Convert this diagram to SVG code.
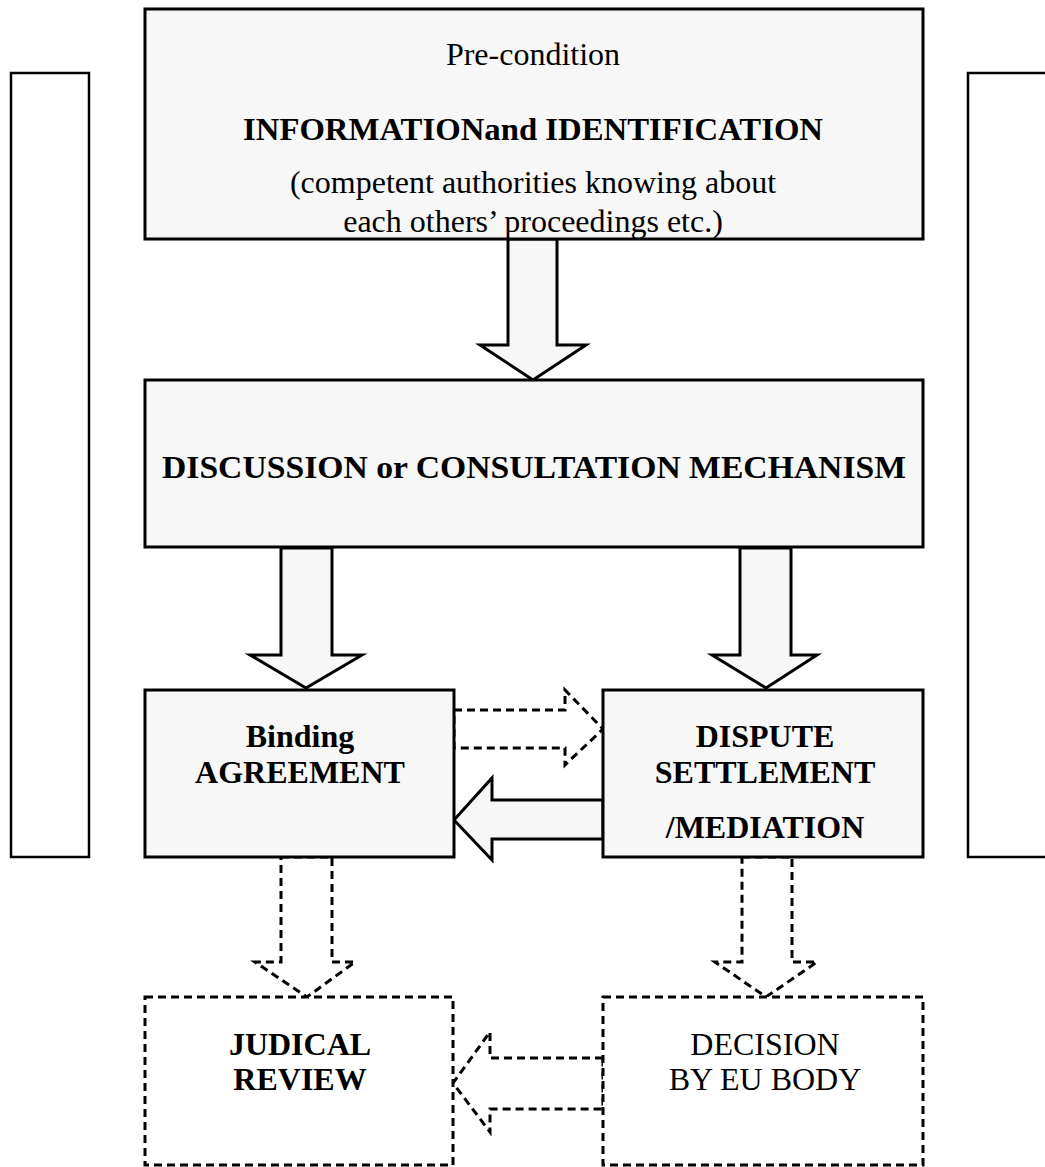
<svg xmlns="http://www.w3.org/2000/svg" width="1045" height="1167" viewBox="0 0 1045 1167">
<style>
.box{fill:#f7f7f7;stroke:#000;stroke-width:3}
.dbox{fill:#fff;stroke:#000;stroke-width:3;stroke-dasharray:8,5}
.side{fill:#fff;stroke:#000;stroke-width:2.5}
.arr{fill:#f7f7f7;stroke:#000;stroke-width:3;stroke-linejoin:miter}
.darr{fill:#fff;stroke:#000;stroke-width:3;stroke-dasharray:8,5}
text{font-family:"Liberation Serif","Times New Roman",serif;font-size:32px;text-anchor:middle;fill:#000}
.b{font-weight:bold}
</style>
<rect width="1045" height="1167" fill="#fff"/>
<g id="side-left"><rect class="side" x="11" y="73" width="78" height="784"/></g>
<g id="side-right"><rect class="side" x="968" y="73" width="90" height="784"/></g>
<g id="connectors">
<polygon class="arr" points="508,239 557,239 557,345 586,345 533,380 480,345 508,345"/>
<polygon class="arr" points="281,548 332,548 332,655 362,655 306,688 250,655 281,655"/>
<polygon class="arr" points="740,548 791,548 791,655 817,655 766,688 712,655 740,655"/>
<polygon class="darr" points="454,710 565,710 565,690 603,729 565,765 565,748 454,748"/>
<polygon class="arr" points="603,800 492,800 492,778 454,820 492,860 492,839 603,839"/>
<polygon class="darr" points="281,857 332,857 332,962 355,962 307,997 255,962 281,962"/>
<polygon class="darr" points="742,857 792,857 792,962 817,962 766,997 715,962 742,962"/>
<polygon class="darr" points="603,1058 490,1058 490,1032 453,1083 490,1132 490,1109 603,1109"/>
</g>
<g id="precondition">
<rect class="box" x="145" y="9" width="778" height="230"/>
<text x="533" y="65">Pre-condition</text>
<text class="b" x="533" y="140" textLength="580" lengthAdjust="spacingAndGlyphs">INFORMATIONand IDENTIFICATION</text>
<text x="533" y="193">(competent authorities knowing about</text>
<text x="533" y="232">each others’ proceedings etc.)</text>
</g>
<g id="discussion">
<rect class="box" x="145" y="380" width="778" height="167"/>
<text class="b" x="534" y="478" textLength="744" lengthAdjust="spacingAndGlyphs">DISCUSSION or CONSULTATION MECHANISM</text>
</g>
<g id="binding">
<rect class="box" x="145" y="690" width="309" height="167"/>
<text class="b" x="300" y="747">Binding</text>
<text class="b" x="300" y="783">AGREEMENT</text>
</g>
<g id="dispute">
<rect class="box" x="603" y="690" width="320" height="167"/>
<text class="b" x="765" y="747">DISPUTE</text>
<text class="b" x="765" y="783">SETTLEMENT</text>
<text class="b" x="765" y="838">/MEDIATION</text>
</g>
<g id="judicial">
<rect class="dbox" x="145" y="997" width="308" height="168"/>
<text class="b" x="300" y="1055">JUDICAL</text>
<text class="b" x="300" y="1090">REVIEW</text>
</g>
<g id="decision">
<rect class="dbox" x="603" y="997" width="320" height="168"/>
<text x="765" y="1055">DECISION</text>
<text x="765" y="1090">BY EU BODY</text>
</g>
</svg>
